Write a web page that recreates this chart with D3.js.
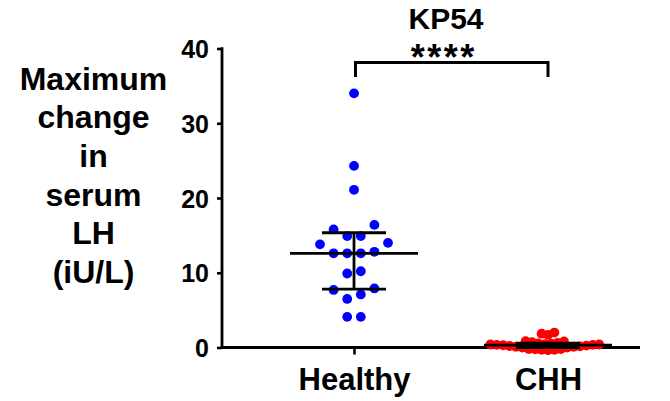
<!DOCTYPE html>
<html>
<head>
<meta charset="utf-8">
<script src="https://cdn.jsdelivr.net/npm/d3@7"></script>
<style>
  html, body { margin: 0; padding: 0; background: #fff; }
  svg { display: block; }
  text { font-family: "Liberation Sans", Arial, Helvetica, sans-serif; font-weight: bold; fill: #000; }
</style>
</head>
<body>
<svg id="chart" width="670" height="401"></svg>
<script>
// ---- data ----
const categories = ["Healthy", "CHH"];
const healthyValues = [34.0, 24.3, 21.1, 16.4, 15.8, 14.9, 14.9, 14.0, 13.8, 12.8, 12.6, 12.6, 12.6, 10.2, 9.9, 7.9, 7.7, 7.1, 6.5, 4.1, 4.1];
const chhValues = [-0.35, -0.3, -0.3, -0.25, -0.2, -0.2, 0.0, 0.0, 0.1, 0.1, 0.15, 0.2, 0.25, 0.3,
                   0.35, 0.35, 0.4, 0.4, 0.45, 0.5, 0.55, 0.6, 0.7, 0.8, 0.85, 1.7, 1.85, 2.0];
const seriesColors = ["#0000ff", "#ff0000"];
const yTicks = [0, 10, 20, 30, 40];
const yLabelLines = ["Maximum", "change", "in", "serum", "LH", "(iU/L)"];
const titleText = "KP54";
const sigText = "****";

// ---- layout ----
const svg = d3.select("#chart");
const axisLeftX = 222, axisRightX = 640;
const y = d3.scaleLinear().domain([0, 40]).range([347.5, 48.5]);
const x = d3.scalePoint().domain(categories).range([354, 548]);

// GraphPad style quartiles (R-6)
function q6(sorted, p) {
  const n = sorted.length;
  const h = p * (n + 1);
  if (h <= 1) return sorted[0];
  if (h >= n) return sorted[n - 1];
  const lo = Math.floor(h);
  return sorted[lo - 1] + (h - lo) * (sorted[lo] - sorted[lo - 1]);
}

// ---- axes ----
const yAxis = d3.axisLeft(y).tickValues(yTicks).tickSize(5).tickSizeOuter(0).tickPadding(8);
const gy = svg.append("g").attr("transform", `translate(${axisLeftX},0)`).call(yAxis);
gy.select(".domain").remove();
gy.selectAll(".tick line").attr("stroke", "#000").attr("stroke-width", 2.6);
gy.selectAll(".tick text").style("font-size", "25px").attr("dy", "0.36em");
svg.append("line")
  .attr("x1", axisLeftX).attr("x2", axisLeftX)
  .attr("y1", y(40) - 1.3).attr("y2", y(0) + 1.3)
  .attr("stroke", "#000").attr("stroke-width", 2.8);

const xAxis = d3.axisBottom(x).tickSize(7).tickSizeOuter(0).tickPadding(12);
const gx = svg.append("g").attr("transform", `translate(0,${y(0)})`).call(xAxis);
gx.select(".domain").remove();
gx.selectAll(".tick line").attr("stroke", "#000").attr("stroke-width", 2.6);
gx.selectAll(".tick text").style("font-size", "31px").attr("dy", "0.75em");
svg.append("line")
  .attr("x1", axisLeftX - 1.4).attr("x2", axisRightX)
  .attr("y1", y(0)).attr("y2", y(0))
  .attr("stroke", "#000").attr("stroke-width", 2.8);

// ---- y label ----
const yl = svg.append("text").attr("text-anchor", "middle").style("font-size", "32px");
yLabelLines.forEach((t, i) => {
  yl.append("tspan").attr("x", 93.5).attr("y", 89.5 + i * 38.7).text(t);
});

// ---- scatter layouts ----
const r = 4.9;
function collides(px, py, placed, minD) {
  return placed.some(p => Math.hypot(p.x - px, p.y - py) < minD);
}
// row-based symmetric layout (rows of near-equal values centred on the column)
function rowSwarm(values, cx, step, minD, thr) {
  const s = values.slice().sort((a, b) => a - b);
  const rows = [];
  s.forEach(v => {
    const last = rows[rows.length - 1];
    if (!last || y(last[0]) - y(v) > thr) rows.push([v]); else last.push(v);
  });
  const placed = [];
  rows.forEach(row => {
    const n = row.length;
    const cands = [];
    for (let k = 0; k < 40; k++) {
      if (n % 2) { if (k === 0) cands.push(0); else cands.push(-k * step, k * step); }
      else cands.push(-(k + 0.5) * step, (k + 0.5) * step);
    }
    const slots = [];
    for (const c of cands) {
      if (slots.length >= n) break;
      if (!row.some(v => collides(cx + c, y(v), placed, minD))) slots.push(c);
    }
    slots.sort((a, b) => a - b);
    row.forEach((v, i) => placed.push({ v, x: cx + slots[i], y: y(v) }));
  });
  return placed;
}
// greedy layout for a crowded column
function greedySwarm(values, cx, step, minD) {
  const s = values.slice().sort((a, b) => a - b);
  const placed = [];
  const cands = [0];
  for (let k = 1; k < 80; k++) cands.push(-k * step / 2, k * step / 2);
  s.forEach(v => {
    const py = y(v);
    let c = cands.find(c => !collides(cx + c, py, placed, minD));
    placed.push({ v, x: cx + c, y: py });
  });
  return placed;
}

const groups = [
  { cat: categories[0], values: healthyValues, color: seriesColors[0],
    layout: (v, cx) => rowSwarm(v, cx, 13.6, 12, 6) },
  { cat: categories[1], values: chhValues, color: seriesColors[1],
    layout: (v, cx) => greedySwarm(v, cx, 6.4, 6.2) }
];

groups.forEach(g => {
  const nodes = g.layout(g.values, x(g.cat));
  svg.append("g").selectAll("circle").data(nodes).join("circle")
    .attr("cx", d => d.x).attr("cy", d => d.y).attr("r", r)
    .attr("fill", g.color);
});

// ---- median + IQR ----
groups.forEach(g => {
  const s = g.values.slice().sort((a, b) => a - b);
  const med = q6(s, 0.5), q1 = q6(s, 0.25), q3 = q6(s, 0.75);
  const cx = x(g.cat);
  const gg = svg.append("g").attr("stroke", "#000").attr("stroke-width", 2.8);
  gg.append("line").attr("x1", cx).attr("x2", cx).attr("y1", y(q3)).attr("y2", y(q1));
  gg.append("line").attr("x1", cx - 32).attr("x2", cx + 32).attr("y1", y(q3)).attr("y2", y(q3));
  gg.append("line").attr("x1", cx - 32).attr("x2", cx + 32).attr("y1", y(q1)).attr("y2", y(q1));
  gg.append("line").attr("x1", cx - 64).attr("x2", cx + 64).attr("y1", y(med)).attr("y2", y(med));
});

// ---- significance bracket + title ----
const x0 = x(categories[0]) + 1.5, x1 = x(categories[1]);
svg.append("path")
  .attr("d", `M${x0},77 V62.5 H${x1} V77`)
  .attr("fill", "none").attr("stroke", "#000").attr("stroke-width", 3);
svg.append("text").attr("x", 446).attr("y", 28.5).attr("text-anchor", "middle")
  .style("font-size", "30px").text(titleText);
svg.append("text").attr("x", 443.8).attr("y", 70).attr("text-anchor", "middle")
  .style("font-size", "36px").style("letter-spacing", "2.5px").text(sigText);
</script>
</body>
</html>
